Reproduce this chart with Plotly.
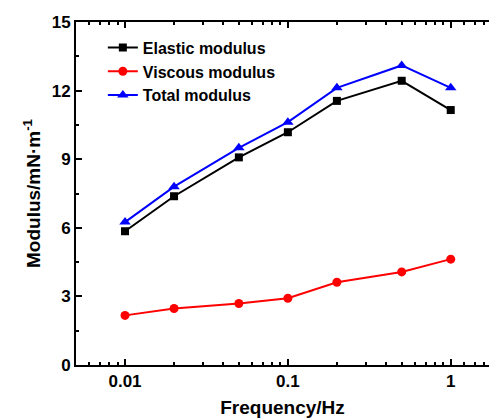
import plotly.graph_objects as go
import math

freq = [0.01, 0.02, 0.05, 0.1, 0.2, 0.5, 1]
elastic = [5.85, 7.38, 9.08, 10.18, 11.55, 12.43, 11.15]
viscous = [2.17, 2.47, 2.69, 2.92, 3.62, 4.07, 4.63]
total = [6.25, 7.8, 9.5, 10.62, 12.12, 13.1, 12.12]

x_major = [0.01, 0.1, 1]
x_major_text = ["0.01", "0.1", "1"]
x_minor = [0.006, 0.007, 0.008, 0.009, 0.02, 0.03, 0.04, 0.05, 0.06, 0.07, 0.08, 0.09,
           0.2, 0.3, 0.4, 0.5, 0.6, 0.7, 0.8, 0.9, 1.2, 1.4, 1.6]
y_major = [0, 3, 6, 9, 12, 15]
y_minor = [1.5, 4.5, 7.5, 10.5, 13.5]

font_family = "Liberation Sans, Arial, sans-serif"

fig = go.Figure()
fig.add_trace(go.Scatter(x=freq, y=elastic, mode="lines+markers", name="Elastic modulus",
                         line=dict(color="black", width=2),
                         marker=dict(symbol="square", size=8, color="black")))
fig.add_trace(go.Scatter(x=freq, y=viscous, mode="lines+markers", name="Viscous modulus",
                         line=dict(color="red", width=2),
                         marker=dict(symbol="circle", size=9, color="red")))
fig.add_trace(go.Scatter(x=freq, y=total, mode="lines+markers", name="Total modulus",
                         line=dict(color="blue", width=2),
                         marker=dict(symbol="triangle-up", size=10, color="blue")))

fig.update_layout(
    template="simple_white",
    width=489, height=419,
    margin=dict(l=76, r=0, t=22, b=54),
    plot_bgcolor="white", paper_bgcolor="white",
    font=dict(family=font_family, size=17, color="black"),
    showlegend=True,
    legend=dict(x=0.065, y=0.975, xanchor="left", yanchor="top",
                bgcolor="rgba(0,0,0,0)", borderwidth=0,
                font=dict(size=16, family=font_family, weight="bold"),
                tracegroupgap=0, itemwidth=30),
)

fig.update_xaxes(
    type="log",
    range=[math.log10(0.005), 0.235],
    tickmode="array",
    tickvals=x_major, ticktext=["<b>%s</b>" % t for t in x_major_text],
    ticks="inside", ticklen=6, tickwidth=2, tickcolor="black",
    showline=True, linecolor="black", linewidth=2, mirror="ticks",
    showgrid=False, zeroline=False,
    minor=dict(ticks="inside", ticklen=3, tickwidth=1.5, tickcolor="black", showgrid=False,
               tickmode="array", tickvals=x_minor),
    title=dict(text="<b>Frequency/Hz</b>", font=dict(size=19), standoff=10),
    tickfont=dict(size=17),
)
fig.update_yaxes(
    range=[0, 15],
    tickmode="array",
    tickvals=y_major, ticktext=["<b>%d</b>" % v for v in y_major],
    ticks="inside", ticklen=6, tickwidth=2, tickcolor="black",
    showline=True, linecolor="black", linewidth=2, mirror=False,
    showgrid=False, zeroline=False,
    minor=dict(ticks="inside", ticklen=3, tickwidth=1.5, tickcolor="black", showgrid=False,
               tickmode="array", tickvals=y_minor),
    title=dict(text="<b>Modulus/mN·m<sup style='font-size:17px'>-1</sup></b>", font=dict(size=19), standoff=6),
    tickfont=dict(size=17),
)

fig.write_html("out.html")
